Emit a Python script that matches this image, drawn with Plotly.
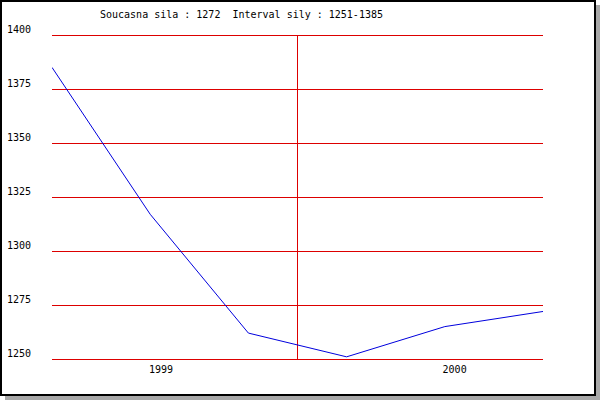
import plotly.graph_objects as go

# ---- data ----
x_index = [0, 1, 2, 3, 4, 5]
strength = [1385, 1317, 1262, 1251, 1265, 1272]
y_ticks = [1250, 1275, 1300, 1325, 1350, 1375, 1400]
x_tick_pos = [1.11, 4.10]
x_tick_text = ["1999", "2000"]
year_divider = 2.5
title_text = "Soucasna sila : 1272  Interval sily : 1251-1385"

FONT = "DejaVu Sans Mono"
GRID = "#dd0000"

W, H = 600, 400
L, R, T, B = 52, 57, 35, 41
pw, ph = W - L - R, H - T - B


def px_x(px):
    return (px - L) / pw


def px_y(py):
    return (H - B - py) / ph


fig = go.Figure()
fig.add_trace(go.Scatter(
    x=x_index, y=strength, mode="lines",
    line=dict(color="#0000dd", width=1),
    hoverinfo="skip", showlegend=False,
))

shapes = [
    # shadow
    dict(type="rect", xref="paper", yref="paper",
         x0=px_x(5), x1=px_x(600), y0=px_y(5), y1=px_y(400),
         fillcolor="#a8a8a8", line=dict(width=0), layer="below"),
    # frame
    dict(type="rect", xref="paper", yref="paper",
         x0=px_x(1), x1=px_x(595), y0=px_y(1), y1=px_y(395),
         fillcolor="white", line=dict(color="black", width=2), layer="below"),
    # year divider
    dict(type="line", xref="x", yref="y",
         x0=year_divider, x1=year_divider, y0=y_ticks[0], y1=y_ticks[-1],
         line=dict(color=GRID, width=1), layer="below"),
]
# edge grid lines (plotly omits gridlines on the range boundaries),
# placed on pixel centres so they render crisp
for py in (T + 0.5, H - B + 0.5):
    shapes.append(dict(type="line", xref="paper", yref="paper",
                       x0=0, x1=1, y0=px_y(py), y1=px_y(py),
                       line=dict(color=GRID, width=1), layer="below"))

fig.update_layout(
    width=W, height=H, autosize=False,
    margin=dict(l=L, r=R, t=T, b=B, pad=0, autoexpand=False),
    paper_bgcolor="white", plot_bgcolor="rgba(0,0,0,0)",
    font=dict(family=FONT, size=10, color="black"),
    title=dict(text=title_text, x=100 / W, xanchor="left", xref="container",
               y=1 - 14 / H, yanchor="middle", yref="container",
               font=dict(family=FONT, size=10, color="black")),
    shapes=shapes,
    xaxis=dict(range=[0, 5], showgrid=False, zeroline=False, automargin=False,
               showline=False, ticklabelstandoff=3,
               tickvals=x_tick_pos, ticktext=x_tick_text, ticks="",
               tickfont=dict(family=FONT, size=10, color="black")),
    yaxis=dict(range=[1250, 1400], tickvals=y_ticks, showgrid=True, automargin=False,
               gridcolor=GRID, gridwidth=1, zeroline=False, showline=False,
               ticks="", ticklabelshift=-6, ticklabelstandoff=20,
               tickfont=dict(family=FONT, size=10, color="black")),
)

fig.write_html("out.html", config={"displayModeBar": False, "staticPlot": True},
               post_script="document.body.style.margin='0';")
